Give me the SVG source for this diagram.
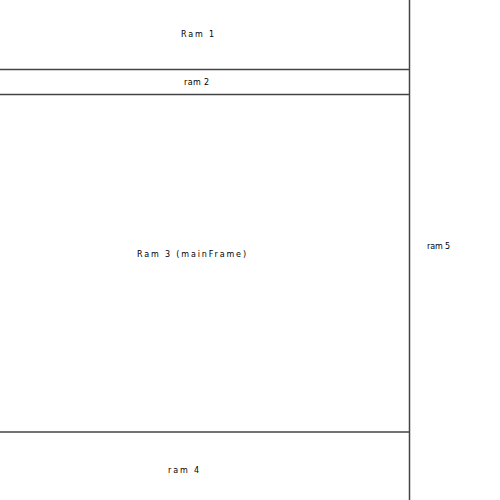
<svg xmlns="http://www.w3.org/2000/svg" width="500" height="500" viewBox="0 0 500 500">
<style>
.ln{stroke:#444;stroke-width:1.5;fill:none}
.t{font-family:"DejaVu Sans","Liberation Sans",sans-serif;font-size:8px;fill:#000}
</style>
<rect x="0" y="0" width="500" height="500" fill="#fff"/>
<g id="connectors">
<line class="ln" x1="409.5" y1="0" x2="409.5" y2="500"/>
<line class="ln" x1="0" y1="69.5" x2="410" y2="69.5"/>
<line class="ln" x1="0" y1="94.5" x2="410" y2="94.5"/>
<line class="ln" x1="0" y1="432" x2="410" y2="432"/>
</g>
<g id="ram1"><text class="t" x="181" y="36.5" textLength="33" lengthAdjust="spacing">Ram 1</text></g>
<g id="ram2"><text class="t" x="184" y="84.5" textLength="25" lengthAdjust="spacing">ram 2</text></g>
<g id="ram3"><text class="t" x="137" y="257" textLength="109" lengthAdjust="spacing">Ram 3 (mainFrame)</text></g>
<g id="ram4"><text class="t" x="168" y="473" textLength="31" lengthAdjust="spacing">ram 4</text></g>
<g id="ram5"><text class="t" x="427" y="248.5" textLength="23" lengthAdjust="spacing">ram 5</text></g>
</svg>
